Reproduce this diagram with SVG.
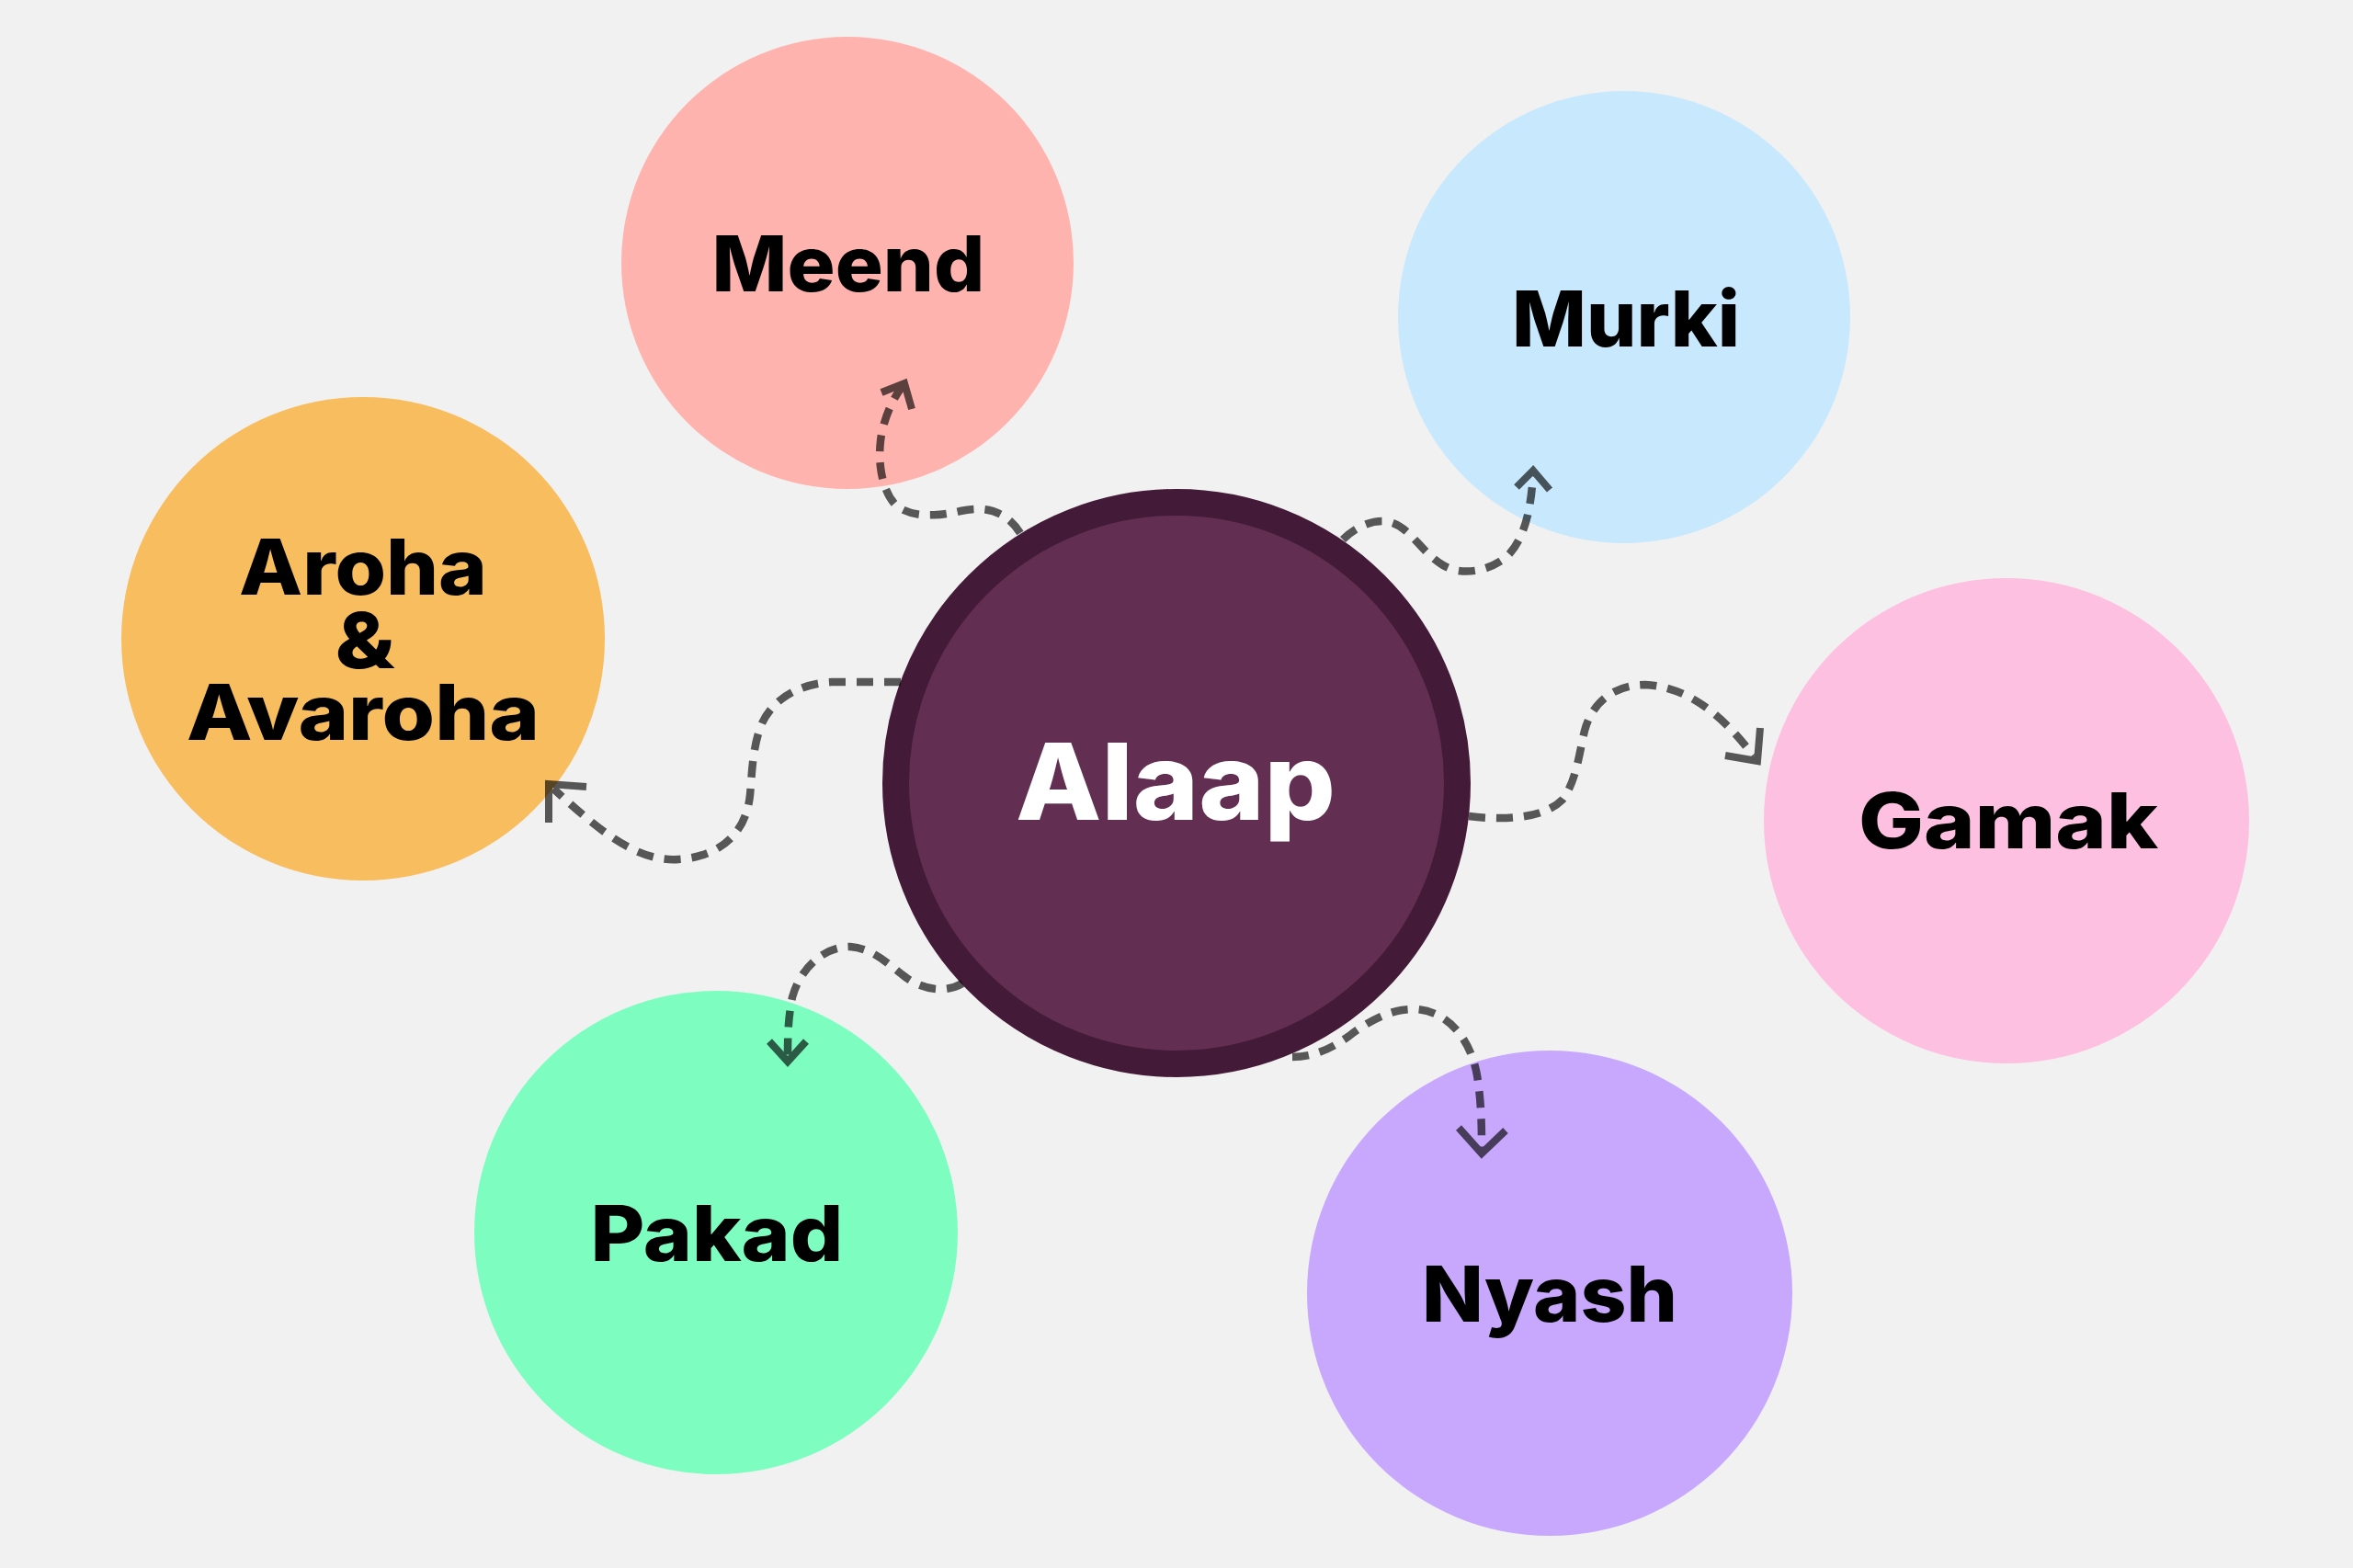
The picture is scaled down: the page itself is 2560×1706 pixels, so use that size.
<svg xmlns="http://www.w3.org/2000/svg" width="2560" height="1706" viewBox="0 0 2560 1706">
<style>
.lbl{font-family:"Inter","Liberation Sans",sans-serif;font-weight:800;font-size:84px;fill:#000;text-anchor:middle}
.main{font-family:"Inter","Liberation Sans",sans-serif;font-weight:800;font-size:115px;fill:#fff;text-anchor:middle}
.con{opacity:0.64}
.con path{fill:none;stroke:#000;stroke-width:8.5;stroke-dasharray:18 12}
.con polyline{fill:none;stroke:#000;stroke-width:8;stroke-linejoin:miter}
</style>
<rect width="2560" height="1706" fill="#f1f1f1"/>
<g id="meend"><circle cx="922" cy="286" r="246" fill="#ffb3ae"/><text class="lbl" x="923" y="317" textLength="297" lengthAdjust="spacingAndGlyphs">Meend</text></g>
<g id="murki"><circle cx="1767" cy="345" r="246" fill="#c8e8fd"/><text class="lbl" x="1769" y="377" textLength="248" lengthAdjust="spacingAndGlyphs">Murki</text></g>
<g id="aroha"><circle cx="395" cy="695" r="263" fill="#f7bd5f"/><text class="lbl" x="395" y="647" textLength="270" lengthAdjust="spacingAndGlyphs">Aroha</text><text class="lbl" x="397" y="727" textLength="65" lengthAdjust="spacingAndGlyphs">&amp;</text><text class="lbl" x="395" y="805" textLength="384" lengthAdjust="spacingAndGlyphs">Avaroha</text></g>
<g id="gamak"><circle cx="2183" cy="893" r="264" fill="#fec0e0"/><text class="lbl" x="2185" y="923" textLength="326" lengthAdjust="spacingAndGlyphs">Gamak</text></g>
<g id="pakad"><circle cx="779" cy="1341" r="263" fill="#7dfec0"/><text class="lbl" x="780" y="1372" textLength="275" lengthAdjust="spacingAndGlyphs">Pakad</text></g>
<g id="nyash"><circle cx="1686" cy="1407" r="264" fill="#c8a8fd"/><text class="lbl" x="1686" y="1438" textLength="278" lengthAdjust="spacingAndGlyphs">Nyash</text></g>
<g id="alaap"><circle cx="1280" cy="852" r="305.5" fill="#622f53" stroke="#431a37" stroke-width="29"/><text class="main" x="1279" y="892" textLength="348" lengthAdjust="spacingAndGlyphs">Alaap</text></g>
<g id="connectors">
<g class="con"><path d="M1110,580 C1095,556 1072,550 1045,556 C1015,563 990,562 975,550 C960,535 955,505 958,480 C960,460 970,435 982,420"/><polyline points="959,427 984,417 992,445"/></g>
<g class="con"><path d="M1461,587 C1475,573 1495,564 1512,568 C1535,574 1545,600 1570,615 C1590,627 1620,622 1640,605 C1660,585 1666,550 1668,515"/><polyline points="1650,530 1668,512 1686,533"/></g>
<g class="con"><path d="M980,742 L905,742 C865,744 835,765 826,795 C818,820 818,845 816,865 C812,905 785,932 738,935 C692,938 650,902 602,858"/><polyline points="638,856 597,853 597,895"/></g>
<g class="con"><path d="M1598,888 C1640,893 1680,890 1700,870 C1715,850 1718,820 1724,795 C1732,765 1755,745 1790,745 C1840,747 1880,785 1908,823"/><polyline points="1915,792 1912,828 1877,822"/></g>
<g class="con"><path d="M1047,1070 C1030,1080 1005,1078 985,1063 C965,1048 950,1032 925,1030 C895,1030 870,1055 862,1085 C857,1110 857,1130 857,1152"/><polyline points="837,1133 857,1155 877,1133"/></g>
<g class="con"><path d="M1406,1150 C1430,1150 1450,1140 1468,1127 C1490,1110 1515,1097 1540,1098 C1575,1100 1600,1130 1607,1170 C1612,1200 1612,1230 1612,1252"/><polyline points="1587,1227 1612,1255 1638,1230"/></g>
</g>
</svg>
